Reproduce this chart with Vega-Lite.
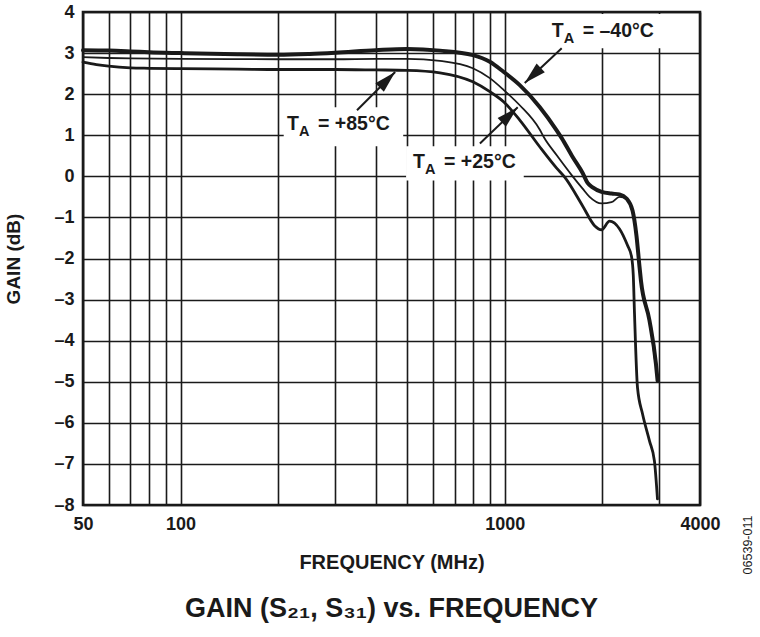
{
  "$schema": "https://vega.github.io/schema/vega-lite/v6.json",
  "width": 617,
  "height": 493,
  "autosize": {"type": "none"},
  "padding": {"left": 83, "top": 12, "right": 60, "bottom": 132},
  "background": "white",
  "title": {"text": "GAIN (S₂₁, S₃₁) vs. FREQUENCY", "orient": "bottom", "anchor": "middle", "frame": "group", "fontSize": 27, "font": "Liberation Sans", "fontWeight": "bold", "color": "#1a1a1a", "offset": 22},
  "config": {
    "view": {"stroke": "#1a1a1a", "strokeWidth": 2.6},
    "axis": {"grid": true, "gridColor": "#1a1a1a", "gridWidth": 1.6, "gridOpacity": 1, "domain": false, "ticks": false, "labelFont": "Liberation Sans", "labelFontWeight": "bold", "labelFontSize": 18, "labelColor": "#1a1a1a", "titleFont": "Liberation Sans", "titleFontWeight": "bold", "titleFontSize": 19, "titleColor": "#1a1a1a"}
  },
  "datasets": {
    "curves": [
      {"temp": "-40", "f": 50, "g": 3.07}, {"temp": "-40", "f": 60, "g": 3.06}, {"temp": "-40", "f": 70, "g": 3.04}, {"temp": "-40", "f": 80, "g": 3.02},
      {"temp": "-40", "f": 100, "g": 3.0}, {"temp": "-40", "f": 150, "g": 2.97}, {"temp": "-40", "f": 200, "g": 2.96}, {"temp": "-40", "f": 250, "g": 2.98},
      {"temp": "-40", "f": 300, "g": 3.01}, {"temp": "-40", "f": 400, "g": 3.07}, {"temp": "-40", "f": 500, "g": 3.1}, {"temp": "-40", "f": 631, "g": 3.06},
      {"temp": "-40", "f": 797, "g": 2.95}, {"temp": "-40", "f": 899, "g": 2.79}, {"temp": "-40", "f": 993, "g": 2.54}, {"temp": "-40", "f": 1112, "g": 2.22},
      {"temp": "-40", "f": 1281, "g": 1.69}, {"temp": "-40", "f": 1445, "g": 1.12}, {"temp": "-40", "f": 1498, "g": 0.93}, {"temp": "-40", "f": 1619, "g": 0.47},
      {"temp": "-40", "f": 1738, "g": 0.08}, {"temp": "-40", "f": 1800, "g": -0.16}, {"temp": "-40", "f": 1866, "g": -0.27}, {"temp": "-40", "f": 1989, "g": -0.38},
      {"temp": "-40", "f": 2134, "g": -0.42}, {"temp": "-40", "f": 2259, "g": -0.44}, {"temp": "-40", "f": 2373, "g": -0.54}, {"temp": "-40", "f": 2477, "g": -0.83},
      {"temp": "-40", "f": 2548, "g": -1.45}, {"temp": "-40", "f": 2603, "g": -2.2}, {"temp": "-40", "f": 2630, "g": -2.54}, {"temp": "-40", "f": 2794, "g": -3.51},
      {"temp": "-40", "f": 2925, "g": -4.56}, {"temp": "-40", "f": 2960, "g": -4.98},
      {"temp": "+25", "f": 50, "g": 2.9}, {"temp": "+25", "f": 60, "g": 2.88}, {"temp": "+25", "f": 70, "g": 2.87}, {"temp": "+25", "f": 100, "g": 2.86},
      {"temp": "+25", "f": 200, "g": 2.85}, {"temp": "+25", "f": 300, "g": 2.85}, {"temp": "+25", "f": 400, "g": 2.86}, {"temp": "+25", "f": 500, "g": 2.86},
      {"temp": "+25", "f": 631, "g": 2.81}, {"temp": "+25", "f": 797, "g": 2.63}, {"temp": "+25", "f": 899, "g": 2.39}, {"temp": "+25", "f": 993, "g": 2.1},
      {"temp": "+25", "f": 1112, "g": 1.73}, {"temp": "+25", "f": 1281, "g": 1.14}, {"temp": "+25", "f": 1320, "g": 0.95}, {"temp": "+25", "f": 1450, "g": 0.5},
      {"temp": "+25", "f": 1619, "g": 0.0}, {"temp": "+25", "f": 1738, "g": -0.3}, {"temp": "+25", "f": 1826, "g": -0.5}, {"temp": "+25", "f": 1989, "g": -0.66},
      {"temp": "+25", "f": 2134, "g": -0.63}, {"temp": "+25", "f": 2259, "g": -0.5}, {"temp": "+25", "f": 2373, "g": -0.56}, {"temp": "+25", "f": 2477, "g": -0.86},
      {"temp": "+25", "f": 2548, "g": -1.45}, {"temp": "+25", "f": 2603, "g": -2.22}, {"temp": "+25", "f": 2630, "g": -2.55}, {"temp": "+25", "f": 2794, "g": -3.48},
      {"temp": "+25", "f": 2910, "g": -4.53},
      {"temp": "+85", "f": 50, "g": 2.78}, {"temp": "+85", "f": 55, "g": 2.72}, {"temp": "+85", "f": 60, "g": 2.68}, {"temp": "+85", "f": 70, "g": 2.64},
      {"temp": "+85", "f": 80, "g": 2.63}, {"temp": "+85", "f": 100, "g": 2.62}, {"temp": "+85", "f": 150, "g": 2.61}, {"temp": "+85", "f": 200, "g": 2.6},
      {"temp": "+85", "f": 300, "g": 2.6}, {"temp": "+85", "f": 400, "g": 2.59}, {"temp": "+85", "f": 500, "g": 2.58}, {"temp": "+85", "f": 631, "g": 2.52},
      {"temp": "+85", "f": 797, "g": 2.3}, {"temp": "+85", "f": 899, "g": 2.06}, {"temp": "+85", "f": 993, "g": 1.81}, {"temp": "+85", "f": 1112, "g": 1.37},
      {"temp": "+85", "f": 1281, "g": 0.72}, {"temp": "+85", "f": 1445, "g": 0.2}, {"temp": "+85", "f": 1530, "g": -0.02}, {"temp": "+85", "f": 1738, "g": -0.72},
      {"temp": "+85", "f": 1892, "g": -1.2}, {"temp": "+85", "f": 1989, "g": -1.3}, {"temp": "+85", "f": 2104, "g": -1.09}, {"temp": "+85", "f": 2259, "g": -1.28},
      {"temp": "+85", "f": 2390, "g": -1.68}, {"temp": "+85", "f": 2459, "g": -1.95}, {"temp": "+85", "f": 2490, "g": -2.4}, {"temp": "+85", "f": 2512, "g": -3.34},
      {"temp": "+85", "f": 2566, "g": -5.14}, {"temp": "+85", "f": 2659, "g": -5.78}, {"temp": "+85", "f": 2794, "g": -6.44}, {"temp": "+85", "f": 2894, "g": -6.93},
      {"temp": "+85", "f": 2957, "g": -7.85}
    ],
    "notes": [
      {"note": "-40", "f": 1395, "g": 3.39, "rest": "= –40°C"},
      {"note": "+25", "f": 521, "g": 0.2, "rest": "= +25°C"},
      {"note": "+85", "f": 213, "g": 1.12, "rest": "= +85°C"}
    ],
    "boxes": [
      {"note": "-40", "f1": 1328, "f2": 3129, "g1": 3.95, "g2": 3.12},
      {"note": "+25", "f1": 496, "f2": 1144, "g1": 0.73, "g2": -0.1},
      {"note": "+85", "f1": 208, "f2": 486, "g1": 1.68, "g2": 0.73}
    ],
    "arrows": [
      {"note": "-40", "f1": 1498, "g1": 3.12, "f2": 1152, "g2": 2.27},
      {"note": "+25", "f1": 838, "g1": 0.8, "f2": 1096, "g2": 1.68},
      {"note": "+85", "f1": 350, "g1": 1.61, "f2": 459, "g2": 2.54}
    ]
  },
  "layer": [
    {
      "data": {"name": "boxes"},
      "mark": {"type": "rect", "fill": "white"},
      "encoding": {
        "x": {"field": "f1", "type": "quantitative",
          "scale": {"type": "log", "domain": [50, 4000], "nice": false},
          "axis": {"title": "FREQUENCY (MHz)", "values": [50, 60, 70, 80, 90, 100, 200, 300, 400, 500, 600, 700, 800, 900, 1000, 2000, 3000, 4000],
            "labelExpr": "indexof([50, 100, 1000, 4000], datum.value) >= 0 ? '' + datum.value : ''",
            "labelFlush": false, "labelOverlap": false, "labelPadding": 10, "titleFontSize": 20,
            "titleX": 308.5, "titleY": 63, "titleAlign": "center", "titleBaseline": "alphabetic"}},
        "x2": {"field": "f2"},
        "y": {"field": "g1", "type": "quantitative",
          "scale": {"domain": [-8, 4], "nice": false, "zero": false},
          "axis": {"title": "GAIN (dB)", "values": [-8, -7, -6, -5, -4, -3, -2, -1, 0, 1, 2, 3, 4],
            "labelExpr": "datum.value < 0 ? '–' + (-datum.value) : '' + datum.value",
            "labelPadding": 9, "labelOverlap": false, "labelFlush": false,
            "titleX": -70, "titleY": 246.5, "titleAngle": -90, "titleAlign": "center", "titleBaseline": "middle"}},
        "y2": {"field": "g2"}
      }
    },
    {
      "data": {"name": "curves"},
      "mark": {"type": "line", "interpolate": "monotone", "color": "#1a1a1a", "strokeCap": "round", "strokeJoin": "round"},
      "encoding": {
        "x": {"field": "f", "type": "quantitative"},
        "y": {"field": "g", "type": "quantitative"},
        "detail": {"field": "temp"},
        "strokeWidth": {"field": "temp", "type": "nominal", "scale": {"type": "ordinal", "domain": ["-40", "+25", "+85"], "range": [4, 1.8, 2.8]}, "legend": null}
      }
    },
    {
      "data": {"name": "arrows"},
      "mark": {"type": "rule", "color": "#1a1a1a", "strokeWidth": 2},
      "encoding": {
        "x": {"field": "f1", "type": "quantitative"},
        "y": {"field": "g1", "type": "quantitative"},
        "x2": {"field": "f2"},
        "y2": {"field": "g2"}
      }
    },
    {
      "data": {"name": "arrows"},
      "mark": {"type": "point", "shape": "M0,0L-1.2,4.4L1.2,4.4Z", "filled": true, "opacity": 1, "color": "#1a1a1a", "size": 100, "strokeWidth": 0},
      "encoding": {
        "x": {"field": "f2", "type": "quantitative"},
        "y": {"field": "g2", "type": "quantitative"},
        "angle": {"field": "note", "type": "nominal", "scale": {"type": "ordinal", "domain": ["-40", "+25", "+85"], "range": [226.6, 46.5, 45]}, "legend": null}
      }
    },
    {
      "data": {"name": "notes"},
      "mark": {"type": "text", "text": "T", "align": "left", "baseline": "alphabetic", "font": "Liberation Sans", "fontWeight": "bold", "fontSize": 19.5, "color": "#1a1a1a"},
      "encoding": {
        "x": {"field": "f", "type": "quantitative"},
        "y": {"field": "g", "type": "quantitative"}
      }
    },
    {
      "data": {"name": "notes"},
      "mark": {"type": "text", "text": "A", "align": "left", "baseline": "alphabetic", "dx": 12, "dy": 6, "font": "Liberation Sans", "fontWeight": "bold", "fontSize": 14.5, "color": "#1a1a1a"},
      "encoding": {
        "x": {"field": "f", "type": "quantitative"},
        "y": {"field": "g", "type": "quantitative"}
      }
    },
    {
      "data": {"name": "notes"},
      "mark": {"type": "text", "align": "left", "baseline": "alphabetic", "dx": 31, "font": "Liberation Sans", "fontWeight": "bold", "fontSize": 19.5, "color": "#1a1a1a"},
      "encoding": {
        "x": {"field": "f", "type": "quantitative"},
        "y": {"field": "g", "type": "quantitative"},
        "text": {"field": "rest"}
      }
    },
    {
      "data": {"values": [{"code": "06539-011"}]},
      "mark": {"type": "text", "angle": 270, "align": "center", "baseline": "middle", "dx": -40, "dy": 48, "font": "Liberation Sans", "fontSize": 12.5, "color": "#1a1a1a"},
      "encoding": {
        "x": {"datum": 4000, "type": "quantitative"},
        "y": {"datum": -8, "type": "quantitative"},
        "text": {"field": "code"}
      }
    }
  ]
}
